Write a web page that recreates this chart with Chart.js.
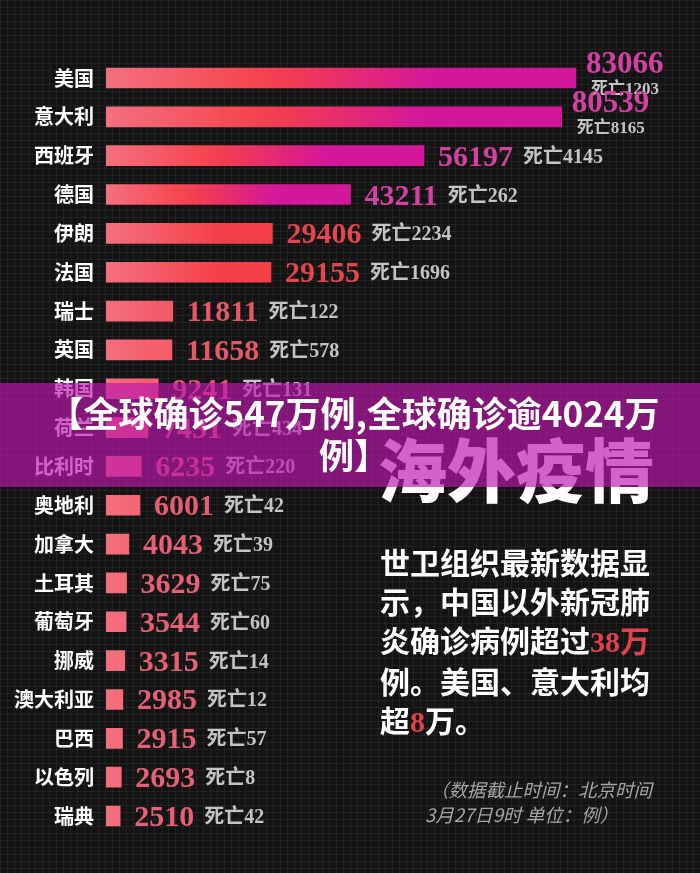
<!DOCTYPE html>
<html><head><meta charset="utf-8">
<script src="https://cdn.jsdelivr.net/npm/chart.js@4/dist/chart.umd.min.js"></script>
<style>
html,body{margin:0;padding:0;width:700px;height:873px;overflow:hidden;}
body{position:relative;background-color:#131313;
 background-image:linear-gradient(rgba(60,60,60,0.35) 1px,transparent 1px),linear-gradient(90deg,rgba(60,60,60,0.35) 1px,transparent 1px);
 background-size:7px 7px;font-family:'Noto Sans CJK SC',sans-serif;}
#c{position:absolute;left:0;top:0;}
#big{position:absolute;left:378px;top:432px;font-size:69px;line-height:70px;font-weight:900;color:#fff;white-space:nowrap;}
#para{position:absolute;left:380px;top:542px;font-size:30px;line-height:39px;font-weight:bold;color:#fff;white-space:nowrap;}
#para .r{color:#e0414b;font-family:'Liberation Serif','Noto Sans CJK SC',serif;}
#note{position:absolute;left:425px;top:777px;font-size:18.5px;line-height:25px;font-style:italic;color:#a6a6a6;white-space:nowrap;}
#note .l1{padding-left:5px;}
#band{position:absolute;left:0;top:383px;width:700px;height:104px;background:rgba(187,22,172,0.667);}
#bandText{position:absolute;left:0;top:391px;width:708px;text-align:center;font-size:35px;line-height:42px;font-weight:bold;color:#fff;white-space:nowrap;}
</style>
</head><body>
<canvas id="c" width="700" height="873"></canvas>
<div id="big">海外疫情</div>
<div id="para">世卫组织最新数据显<br>示，中国以外新冠肺<br>炎确诊病例超过<span class="r">38万</span><br>例。美国、意大利均<br>超<span class="r">8</span>万。</div>
<div id="note"><span class="l1">（数据截止时间：北京时间</span><br>3月27日9时 单位：例）</div>
<div id="band"></div>
<div id="bandText">【全球确诊547万例,全球确诊逾4024万<br>例】</div>
<script>
const countries = ['美国','意大利','西班牙','德国','伊朗','法国','瑞士','英国','韩国','荷兰','比利时','奥地利','加拿大','土耳其','葡萄牙','挪威','澳大利亚','巴西','以色列','瑞典'];
const confirmed = [83066,80539,56197,43211,29406,29155,11811,11658,9241,7431,6235,6001,4043,3629,3544,3315,2985,2915,2693,2510];
const deaths = [1203,8165,4145,262,2234,1696,122,578,131,434,220,42,39,75,60,14,12,57,8,42];
const deathPrefix = '死亡';

const barStops = [[244,112,128],[245,64,72],[212,22,155]];
const textStops = [[230,100,124],[228,70,74],[214,64,162]];
function ramp(stops, s){
  s = Math.max(0, Math.min(2, s));
  const i = s < 1 ? 0 : 1, f = s - i;
  const a = stops[i], b = stops[i+1];
  return 'rgb(' + a.map((v,k)=>Math.round(v+(b[k]-v)*f)).join(',') + ')';
}
function sEnd(v){ return v <= 29000 ? v/29000 : Math.min(2, 1 + (v-29000)/13000); }

function barColor(ctx){
  const chart = ctx.chart, area = chart.chartArea;
  if (!area || ctx.raw == null) return ramp(barStops, 0);
  const v = ctx.raw;
  const x1 = chart.scales.x.getPixelForValue(v);
  const g = chart.ctx.createLinearGradient(area.left, 0, x1, 0);
  const se = sEnd(v);
  for (let i = 0; i <= 10; i++){
    const t = i/10;
    g.addColorStop(t, ramp(barStops, se*Math.min(1, t/0.7)));
  }
  return g;
}

const labelPlugin = {
  id:'valueLabels',
  afterDatasetsDraw(chart){
    const ctx = chart.ctx;
    const meta = chart.getDatasetMeta(0);
    ctx.save();
    ctx.textAlign = 'left';
    ctx.textBaseline = 'alphabetic';
    meta.data.forEach((bar, i) => {
      const x = bar.x, y = bar.y;
      const col = ramp(textStops, sEnd(confirmed[i]));
      const val = String(confirmed[i]);
      const dth = deathPrefix + deaths[i];
      if (i < 2){
        ctx.font = 'bold 31px "Liberation Serif", serif';
        ctx.fillStyle = col;
        ctx.fillText(val, x + 10, y - 5);
        ctx.font = 'bold 17px "Liberation Serif", "Noto Sans CJK SC", serif';
        ctx.fillStyle = '#c4c4c4';
        ctx.fillText(dth, x + 15, y + 16);
      } else {
        ctx.font = 'bold 30px "Liberation Serif", serif';
        ctx.fillStyle = col;
        const vx = x + 14;
        ctx.fillText(val, vx, y + 10);
        const w = ctx.measureText(val).width;
        ctx.font = 'bold 20px "Liberation Serif", "Noto Sans CJK SC", serif';
        ctx.fillStyle = '#c4c4c4';
        ctx.fillText(dth, vx + w + 10, y + 7);
      }
    });
    ctx.restore();
  }
};

new Chart(document.getElementById('c'), {
  type:'bar',
  data:{ labels: countries, datasets:[{ data: confirmed, backgroundColor: barColor, borderWidth:0, barThickness:20 }] },
  options:{
    responsive:false, animation:false, indexAxis:'y',
    layout:{ padding:{ top:58.6, bottom:37.6, left:0, right:28.2 } },
    plugins:{ legend:{display:false}, tooltip:{enabled:false} },
    scales:{
      x:{ display:false, min:0, max:100000 },
      y:{ grid:{display:false, drawTicks:false}, border:{display:false},
          ticks:{ color:'#ffffff', padding:12, font:{ family:'Noto Sans CJK SC', weight:'bold', size:20 } },
          afterFit(s){ s.width = 106; } }
    }
  },
  plugins:[labelPlugin]
});
</script>
</body></html>
